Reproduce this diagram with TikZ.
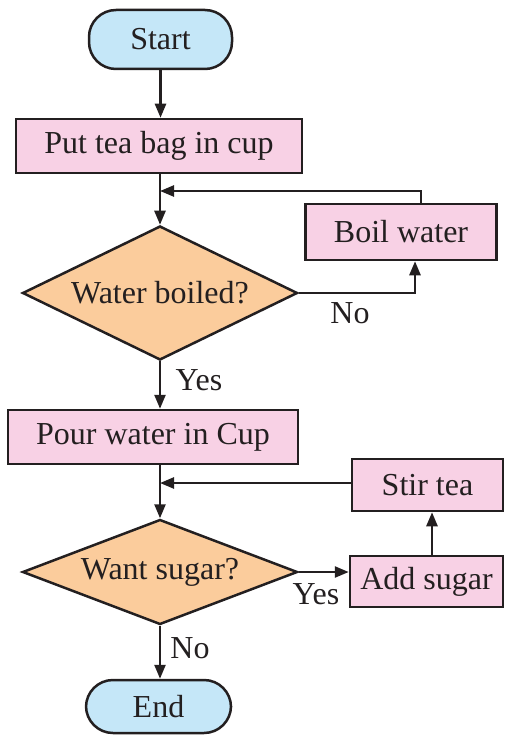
\documentclass[tikz,border=0pt]{standalone}
\usepackage{fontspec}
\setmainfont{Liberation Serif}
\usetikzlibrary{shapes.geometric,arrows.meta}
\definecolor{ink}{HTML}{231F20}
\definecolor{termfill}{HTML}{C5E7F8}
\definecolor{procfill}{HTML}{F8D1E5}
\definecolor{decfill}{HTML}{FBCC9C}
\begin{document}
\begin{tikzpicture}[x=1pt,y=-1pt,
  base/.style={draw=ink, line width=2.5pt, text=ink,
    font=\fontsize{32}{38}\selectfont, inner sep=0pt},
  term/.style={base, fill=termfill, rounded corners=27pt},
  proc/.style={base, fill=procfill, rectangle},
  dec/.style={base, fill=decfill, diamond},
  txt/.style={text=ink, font=\fontsize{32}{38}\selectfont, inner sep=0pt},
  flow/.style={draw=ink, line width=2.5pt, -{Triangle[length=14pt,width=11pt]}},
  wire/.style={draw=ink, line width=2.5pt}]
\useasboundingbox (0,0) rectangle (505,735);

% terminals
\node[term, minimum width=143pt, minimum height=59pt] (start) at (160.5,39.5) {Start};
\node[term, minimum width=145pt, minimum height=53pt] (end) at (158.5,706.5) {End};

% process boxes
\node[proc, minimum width=286pt, minimum height=54pt] (tea) at (159,146) {Put tea bag in cup};
\node[proc, minimum width=191pt, minimum height=56pt] (boil) at (401,232) {Boil water};
\node[proc, minimum width=290pt, minimum height=54pt] (pour) at (153,437) {Pour water in Cup};
\node[proc, minimum width=151pt, minimum height=52pt] (stir) at (427.5,485) {Stir tea};
\node[proc, minimum width=153pt, minimum height=51pt] (add) at (426.5,581.5) {Add sugar};

% decisions
\node[dec, minimum width=275pt, minimum height=134pt] (boiled) at (160,293) {};
\node[txt] at (boiled) {Water boiled?};
\node[dec, minimum width=275pt, minimum height=105pt] (sugar) at (160,572) {};
\node[txt] at (sugar) {Want sugar?};

% junctions where the loops rejoin the main line
\coordinate (j1) at (160,191);
\coordinate (j2) at (160,483);
\coordinate (riser) at (432,0);

% main flow
\draw[flow] (start.south) -- (start.south |- tea.north);
\draw[flow] (tea.south -| boiled.north) -- (boiled.north);
\draw[flow] (boiled.south) -- (pour.north -| boiled.south);
\draw[flow] (pour.south -| sugar.north) -- (sugar.north);
\draw[flow] (sugar.south) -- (end.north -| sugar.south);

% boiling loop
\draw[flow] (boiled.east) -| ([xshift=14pt]boil.south);
\draw[flow] ([xshift=20pt]boil.north) |- (j1);

% sugar branch
\draw[flow] (sugar.east) -- (sugar.east -| add.west);
\draw[flow] (riser |- add.north) -- (riser |- stir.south);
\draw[flow] (stir.west |- j2) -- (j2);

% branch labels
\node[txt] (no1) at (350,313) {No};
\node[txt] (yes1) at (199,380) {Yes};
\node[txt] (yes2) at (316,594) {Yes};
\node[txt] (no2) at (190,648) {No};
\end{tikzpicture}
\end{document}
